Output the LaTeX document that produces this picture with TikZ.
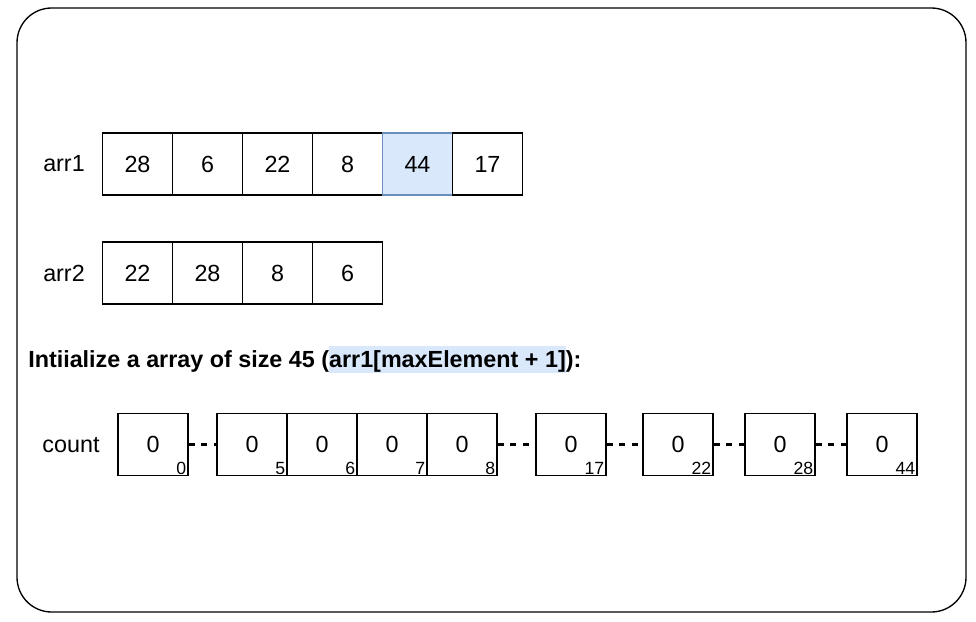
\documentclass[tikz,border=0pt]{standalone}
\usepackage{fontspec}
\setmainfont{Liberation Sans}
\definecolor{hlblue}{HTML}{DAE8FC}
\definecolor{hlstroke}{HTML}{6C8EBF}
\newcommand\hlbox[1]{{\setlength\fboxsep{0pt}\colorbox{hlblue}{\rule[-4.5pt]{0pt}{20.25pt}#1}}}
\begin{document}
\begin{tikzpicture}[x=0.75pt,y=-0.75pt,
  frame/.style={draw=black, line width=1pt, rounded corners=26pt, minimum width=711.75pt, minimum height=453pt, inner sep=0pt},
  cell/.style={draw=black, line width=0.8pt, minimum width=52.5pt, minimum height=46.5pt, inner sep=0pt, text height=12.4pt, text depth=0pt, font=\fontsize{17.5pt}{20pt}\selectfont},
  hlcell/.style={cell, draw=hlstroke, fill=hlblue},
  lbl/.style={font=\fontsize{17.5pt}{20pt}\selectfont, inner sep=0pt},
  sub/.style={font=\fontsize{13.25pt}{14pt}\selectfont, inner sep=0pt, anchor=south east},
  gap/.style={line width=2.2pt, dash pattern=on 4.5pt off 5pt}]
\useasboundingbox (0,0) rectangle (976,622);
\node[frame] (frame) at (491.5,310) {};

% arr1
\node[lbl] (l1) at (64,164) {arr1};
\node[cell] (a1) at (137.5,164) {28};
\node[cell] (a2) at (207.5,164) {6};
\node[cell] (a3) at (277.5,164) {22};
\node[cell] (a4) at (347.5,164) {8};
\node[hlcell] (a5) at (417.5,164) {44};
\node[cell] (a6) at (487.5,164) {17};

% arr2
\node[lbl] (l2) at (64,273) {arr2};
\node[cell] (b1) at (137.5,273) {22};
\node[cell] (b2) at (207.5,273) {28};
\node[cell] (b3) at (277.5,273) {8};
\node[cell] (b4) at (347.5,273) {6};

% title
\node[anchor=base west, inner sep=0pt, font=\bfseries\fontsize{17.5pt}{20pt}\selectfont] (title) at (28,367)
  {Intiialize a array of size 45 (\hlbox{arr1[maxElement + 1]}):};

% count
\node[lbl] (l3) at (71,445) {count};
\foreach \n/\x in {0/153,5/252,6/322,7/392,8/462,17/571,22/678,28/780,44/882}{
  \node[cell] (c\n) at (\x,444.5) {0};
  \node[sub] (s\n) at ([shift={(-1.5pt,1.2pt)}]c\n.south east) {\n};
}
\draw[gap] (c0.east) -- (c5.west);
\draw[gap] (c8.east) -- (c17.west);
\draw[gap] (c17.east) -- (c22.west);
\draw[gap] (c22.east) -- (c28.west);
\draw[gap] (c28.east) -- (c44.west);
\end{tikzpicture}
\end{document}
